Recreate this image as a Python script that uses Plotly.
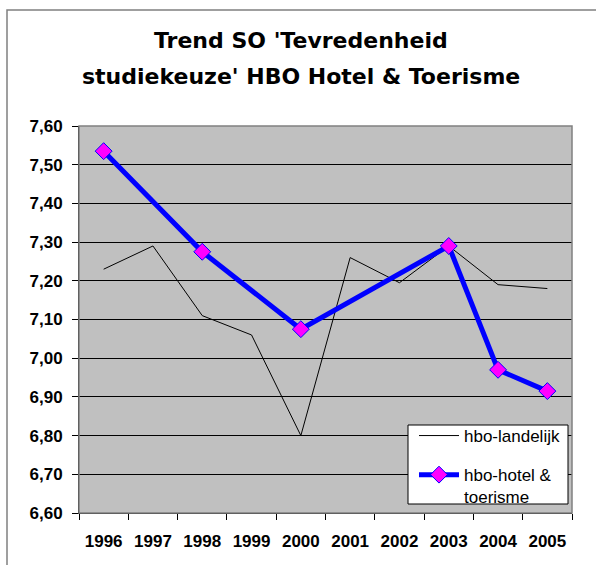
import plotly.graph_objects as go

years = ["1996", "1997", "1998", "1999", "2000", "2001", "2002", "2003", "2004", "2005"]
landelijk = [7.23, 7.29, 7.11, 7.06, 6.80, 7.26, 7.195, 7.29, 7.19, 7.18]
hotel = [7.535, None, 7.275, None, 7.075, None, None, 7.29, 6.97, 6.915]
y_ticks = [6.6, 6.7, 6.8, 6.9, 7.0, 7.1, 7.2, 7.3, 7.4, 7.5, 7.6]
title_lines = ["Trend SO 'Tevredenheid", "studiekeuze' HBO Hotel & Toerisme"]

W, H = 596, 565
L, R, T, B = 79, 572, 126, 513

fig = go.Figure()
fig.add_trace(go.Scatter(
    x=years, y=landelijk, mode="lines", name="hbo-landelijk",
    line=dict(color="black", width=1), legendgroup="a",
))
fig.add_trace(go.Scatter(
    x=years, y=hotel, mode="lines+markers", name="hbo-hotel &<br>toerisme",
    connectgaps=True, legendgroup="b",
    line=dict(color="#0000FF", width=5),
    marker=dict(symbol="diamond", size=13, color="#FF00FF",
                line=dict(color="#0000FF", width=1)),
))

pw, ph = R - L, B - T
def px(x): return (x - L) / pw
def py(y): return (B - y) / ph

title_font = dict(family="DejaVu Sans, Liberation Sans, sans-serif", size=22, color="black")
annotations = [
    dict(text="<b>%s</b>" % title_lines[0], xref="paper", yref="paper",
         x=px(300.5), y=py(41), xanchor="center", yanchor="middle",
         showarrow=False, font=title_font),
    dict(text="<b>%s</b>" % title_lines[1], xref="paper", yref="paper",
         x=px(301), y=py(76.5), xanchor="center", yanchor="middle",
         showarrow=False, font=title_font),
]

fig.update_layout(
    width=W, height=H,
    margin=dict(l=L, r=W - R, t=T, b=H - B),
    paper_bgcolor="white", plot_bgcolor="#C0C0C0",
    separators=",.",
    font=dict(family="Liberation Sans, Arial, sans-serif", color="black"),
    annotations=annotations,
    xaxis=dict(
        type="category", tickson="boundaries", ticks="outside", ticklen=6,
        tickcolor="black", showline=True, linecolor="black", linewidth=1,
        showgrid=False, tickfont=dict(size=17, weight="bold"),
        ticklabelstandoff=13,
        range=[-0.5, 9.5], fixedrange=True, automargin=False,
    ),
    yaxis=dict(
        range=[6.6, 7.6], tickvals=y_ticks, tickformat=".2f",
        ticks="outside", ticklen=6, tickcolor="black",
        showline=True, linecolor="black", linewidth=1,
        showgrid=True, gridcolor="black", gridwidth=1,
        zeroline=False, tickfont=dict(size=17, weight="bold"),
        ticklabelstandoff=6,
        automargin=False, fixedrange=True,
    ),
    showlegend=True,
    legend=dict(
        x=px(414), y=py(418), xanchor="left", yanchor="top",
        bgcolor="rgba(0,0,0,0)", borderwidth=0, valign="top",
        font=dict(size=17), traceorder="grouped", tracegroupgap=14,
        itemwidth=40,
    ),
    shapes=[
        dict(type="rect", xref="paper", yref="paper", x0=0, x1=1, y0=0, y1=1,
             line=dict(color="#808080", width=1.5), layer="above"),
        dict(type="rect", xref="paper", yref="paper",
             x0=px(408), x1=px(568), y0=py(425), y1=py(504),
             fillcolor="white", line=dict(color="black", width=1), layer="above"),
        dict(type="rect", xref="paper", yref="paper",
             x0=px(7), x1=px(640), y0=py(10), y1=py(620),
             line=dict(color="#808080", width=1.5)),
    ],
)

fig.write_html("out.html", config={"displayModeBar": False},
               post_script="document.body.style.margin='0';")
